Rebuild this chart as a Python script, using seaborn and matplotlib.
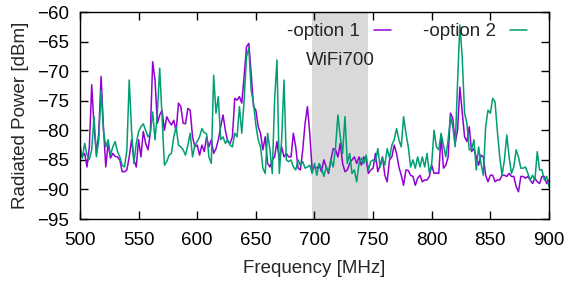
import numpy as np
import pandas as pd
import matplotlib.pyplot as plt
import seaborn as sns

# sweep grid, 2 MHz steps
freq = np.arange(500, 901, 2)

# option 1 (purple), dBm
option1 = [
    -84.2, -84.4, -83.9, -86.2, -82.8, -72.3, -79.4, -83.9, -80.5, -70.9,
    -79.4, -86.2, -82.2, -84.7, -83.9, -84.4, -84.5, -85.0, -87.0, -87.0,
    -86.7, -84.5, -81.6, -85.0, -86.2, -81.6, -84.5, -80.2, -82.2, -83.3,
    -80.5, -68.4, -71.5, -78.8, -77.4, -76.6, -80.0, -77.7, -78.5, -79.1,
    -78.3, -80.2, -75.4, -76.0, -78.8, -78.9, -76.3, -76.6, -81.1, -82.8,
    -82.5, -84.2, -82.5, -83.6, -81.1, -82.8, -81.6, -83.9, -83.1, -81.6,
    -79.4, -77.4, -80.0, -81.9, -82.2, -81.1, -74.6, -74.9, -74.3, -75.4,
    -70.9, -65.9, -65.3,
    -70.4, -76.0, -76.6, -79.4, -80.5, -83.3, -81.1, -85.6, -86.2, -85.0,
    -84.5, -81.9, -85.0, -82.8, -84.5, -83.9, -84.5, -84.5, -80.5, -82.8,
    -86.4, -86.7, -83.3, -78.8, -76.0, -80.5, -86.7, -86.2, -86.4, -85.9,
    -87.0, -85.0, -86.2, -87.3, -85.0, -83.1, -83.3, -84.5, -82.2, -85.6,
    -87.0, -86.7, -85.6, -85.0, -84.5, -85.6, -84.5, -85.9, -84.5, -85.0,
    -87.3, -86.7, -86.4, -83.9, -87.0, -85.9, -84.5, -87.6, -88.7, -85.0,
    -84.5, -82.5, -83.9, -86.2, -87.6, -89.3, -86.7, -86.8,
    -87.6, -87.8, -89.3, -88.1, -87.6, -88.7, -88.4, -88.4, -87.8, -85.9,
    -87.3, -87.2, -87.3, -80.8, -86.4, -85.9, -84.5, -77.1, -78.0, -82.2,
    -80.0, -72.7, -76.9, -81.1, -81.9, -79.4, -83.6, -83.1, -84.5, -85.9,
    -84.2, -84.5, -87.6, -88.7, -87.6, -87.6, -88.7, -88.4, -88.4, -87.6,
    -87.6, -87.8, -87.3, -87.8, -87.8, -89.5, -90.4, -87.8, -87.8, -88.1,
    -87.8, -88.4, -89.0, -88.1, -88.7, -89.0, -87.8, -87.8, -89.0, -88.4,
]

# option 2 (green), dBm
option2 = [
    -82.5, -84.7, -82.2, -84.2, -84.9, -83.3, -77.7, -84.5, -81.6, -73.2,
    -80.0, -82.8, -81.6, -84.2, -82.8, -81.9, -83.6, -84.5, -85.9, -86.2,
    -83.3, -71.5, -80.0, -85.6, -82.2, -80.2, -79.4, -78.9, -80.0, -81.1,
    -80.5, -76.9, -81.6, -77.1, -69.5, -77.7, -85.9, -85.3, -84.2, -83.9,
    -81.1, -79.4, -82.5, -82.8, -83.3, -84.2, -82.5, -80.5, -84.5, -82.5,
    -81.9, -81.1, -79.7, -80.4, -80.6, -84.5, -85.6, -70.7, -77.1, -74.3,
    -81.6, -81.1, -82.2, -81.6, -82.5, -82.8, -80.5, -81.1, -76.0, -80.5,
    -74.9, -67.6, -66.1,
    -73.2, -75.4, -79.1, -81.6, -82.8, -86.4, -87.3, -80.5, -83.3, -87.3,
    -74.9, -68.1, -87.3, -81.6, -71.5, -85.0, -85.3, -85.0, -86.2, -86.7,
    -85.0, -85.9, -85.3, -86.4, -86.2, -85.9, -87.3, -85.6, -87.6, -85.6,
    -86.4, -87.8, -86.2, -87.0, -85.0, -86.2, -82.8, -77.4, -81.1, -83.9,
    -77.7, -85.6, -83.9, -87.3, -86.7, -88.7, -85.6, -84.7, -85.6, -84.2,
    -86.7, -85.3, -85.0, -85.3, -83.1, -86.2, -84.7, -85.9, -83.1, -84.7,
    -82.5, -81.6, -79.7, -81.6, -82.8, -77.7, -80.5, -82.8,
    -86.2, -85.0, -86.4, -84.5, -86.2, -84.5, -86.2, -83.9, -87.3, -85.6,
    -80.0, -82.8, -83.3, -80.5, -82.5, -84.5, -81.6, -77.7, -79.4, -82.8,
    -72.1, -62.2, -67.6, -77.1, -78.8, -83.3, -83.3, -81.6, -86.7, -82.8,
    -85.6, -87.6, -79.4, -76.6, -77.1, -74.6, -75.2, -80.2, -84.5, -87.6,
    -85.0, -80.8, -84.5, -87.3, -86.2, -83.3, -84.5, -86.4, -86.4, -86.2,
    -87.3, -88.4, -87.6, -88.4, -83.6, -86.7, -86.7, -88.4, -87.8, -89.5,
]

labels = ['-option 1', '-option 2']
colors = ['#9400d3', '#009e73']

df = pd.DataFrame({
    'freq': np.concatenate([freq, freq]),
    'power': option1 + option2,
    'series': [labels[0]] * len(freq) + [labels[1]] * len(freq),
})

sns.set_style('ticks')
plt.rcParams['font.family'] = ['Liberation Sans', 'DejaVu Sans']
fs = 13.5

fig = plt.figure(figsize=(5.68, 2.81), dpi=100)
ax = fig.add_axes([0.1408, 0.2206, 0.8257, 0.7366])

# WiFi700 band
ax.axvspan(698, 746, color='#d9d9d9', lw=0, zorder=0)

sns.lineplot(data=df, x='freq', y='power', hue='series', palette=colors,
             estimator=None, lw=1.1, ax=ax)

ax.text(722, -68.2, 'WiFi700', ha='center', va='center', fontsize=fs)

ax.set_xlim(500, 900)
ax.set_ylim(-95, -60)
ax.set_xticks(np.arange(500, 901, 50))
ax.set_yticks(np.arange(-95, -59, 5))
ax.tick_params(direction='in', top=True, right=True, length=6, width=1,
               labelsize=fs, colors='black')
ax.tick_params(axis='x', pad=9.4)
ax.tick_params(axis='y', pad=7.6)
for s in ax.spines.values():
    s.set_color('black')
    s.set_linewidth(1)

ax.set_xlabel('Frequency [MHz]', fontsize=fs)
ax.set_ylabel('Radiated Power [dBm]', fontsize=fs)
ax.xaxis.set_label_coords(0.5, -0.2)
ax.yaxis.set_label_coords(-0.109, 0.5)

ax.legend(loc='upper right', bbox_to_anchor=(0.953, 0.946), ncol=2,
          frameon=False, markerfirst=False, handlelength=0.9,
          handletextpad=0.75, columnspacing=1.7, fontsize=fs,
          borderaxespad=0, borderpad=0)

fig.savefig('out.png', dpi=100)
